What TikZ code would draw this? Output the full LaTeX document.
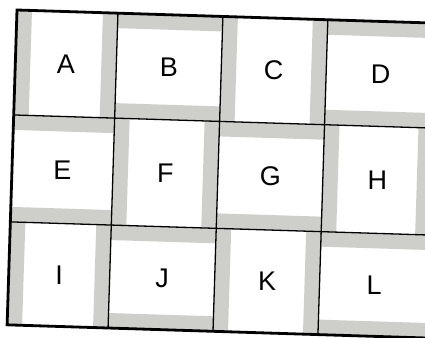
\documentclass[tikz,border=0pt]{standalone}
\usepackage{fontspec}
\setmainfont{Liberation Sans}
\definecolor{bargray}{RGB}{206,207,202}
\tikzset{
  letter/.style={font=\fontsize{27}{27}\selectfont, text=black, inner sep=0pt},
  bar/.style={fill=bargray, draw=none},
  innerline/.style={draw=black, line width=1.3pt},
  frameline/.style={draw=black, line width=2.8pt}
}
\begin{document}
\begin{tikzpicture}[x=1pt,y=-1pt]
\useasboundingbox (0,0) rectangle (425,337);
\clip (0,0) rectangle (425,337);
\fill[white] (0,0) rectangle (425,337);
\def\xs{{0,101,206,311,420}}
\def\ys{{0,105,212,315}}
\def\b{15}
\begin{scope}[rotate around={-1.8:(17,10)}, shift={(17,10)}]
  \foreach \l [count=\i from 0] in {A,B,C,D,E,F,G,H,I,J,K,L} {
    \pgfmathtruncatemacro{\colno}{mod(\i,4)}
    \pgfmathtruncatemacro{\rowno}{div(\i,4)}
    \pgfmathtruncatemacro{\parity}{mod(\colno+\rowno,2)}
    \pgfmathsetmacro{\xa}{\xs[\colno]}
    \pgfmathsetmacro{\xb}{\xs[\colno+1]}
    \pgfmathsetmacro{\ya}{\ys[\rowno]}
    \pgfmathsetmacro{\yb}{\ys[\rowno+1]}
    \ifnum\parity=0
      \fill[bar] (\xa,\ya) rectangle (\xa+\b,\yb);
      \fill[bar] (\xb-\b,\ya) rectangle (\xb,\yb);
    \else
      \fill[bar] (\xa,\ya) rectangle (\xb,\ya+\b);
      \fill[bar] (\xa,\yb-\b) rectangle (\xb,\yb);
    \fi
    \node[letter] (\l) at ({(\xa+\xb)/2},{(\ya+\yb)/2}) {\l};
  }
  \foreach \k in {101,206,311} \draw[innerline] (\k,0) -- (\k,315);
  \foreach \k in {105,212} \draw[innerline] (0,\k) -- (420,\k);
  \draw[frameline] (0,0) rectangle (420,315);
\end{scope}
\end{tikzpicture}
\end{document}
